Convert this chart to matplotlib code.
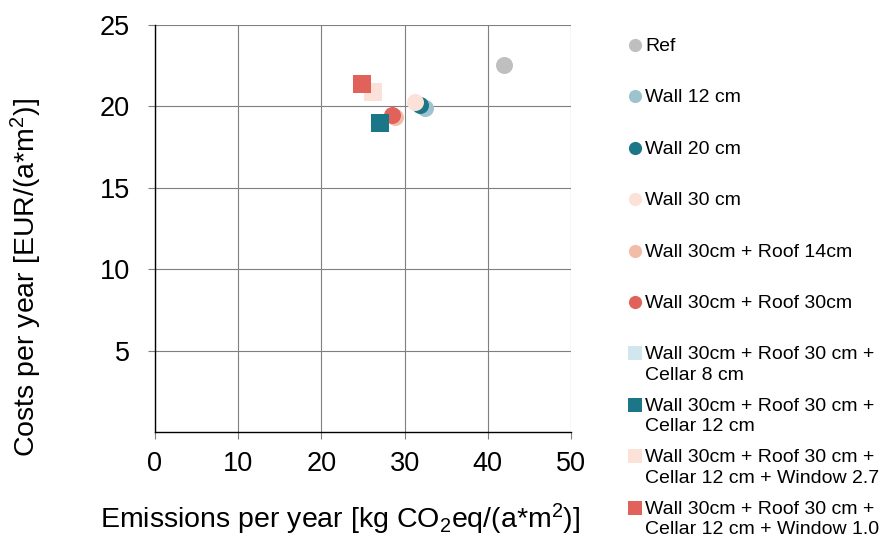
import matplotlib
matplotlib.use("Agg")
import matplotlib.pyplot as plt

plt.rcParams['font.family'] = ['Liberation Sans', 'DejaVu Sans']
plt.rcParams['mathtext.fontset'] = 'custom'
plt.rcParams['mathtext.rm'] = 'Liberation Sans'
plt.rcParams['mathtext.it'] = 'Liberation Sans'
plt.rcParams['mathtext.bf'] = 'Liberation Sans'

labels = ["Ref", "Wall 12 cm", "Wall 20 cm", "Wall 30 cm",
          "Wall 30cm + Roof 14cm", "Wall 30cm + Roof 30cm",
          "Wall 30cm + Roof 30 cm +\nCellar 8 cm",
          "Wall 30cm + Roof 30 cm +\nCellar 12 cm",
          "Wall 30cm + Roof 30 cm +\nCellar 12 cm + Window 2.7",
          "Wall 30cm + Roof 30 cm +\nCellar 12 cm + Window 1.0"]
emissions = [41.9, 32.4, 31.9, 31.2, 28.8, 28.5, 27.1, 27.1, 26.2, 24.9]
costs = [22.55, 19.9, 20.1, 20.3, 19.35, 19.5, 19.0, 19.0, 20.9, 21.4]
markers = ["o", "o", "o", "o", "o", "o", "s", "s", "s", "s"]
colors = ["#BFBFBF", "#9DC4CE", "#1B7687", "#FBE1D8", "#F1BDA8", "#E0625A",
          "#D2E7ED", "#1B7687", "#FBE1D8", "#E0625A"]

fig = plt.figure(figsize=(8.84, 5.4), dpi=100)
ax = fig.add_axes([155/884, 1-432/540, (571-155)/884, (432-25)/540])

ax.set_xlim(0, 50)
ax.set_ylim(0, 25)
ax.set_xticks([0, 10, 20, 30, 40, 50])
ax.set_yticks([5, 10, 15, 20, 25])
ax.grid(True, color="#7F7F7F", linewidth=0.8)
ax.set_axisbelow(True)
for s in ["top", "right"]:
    ax.spines[s].set_visible(False)
for s in ["left", "bottom"]:
    ax.spines[s].set_color("black")
    ax.spines[s].set_linewidth(1.0)
ax.tick_params(axis="both", direction="out", length=5, width=0.8,
               color="#7F7F7F", labelsize=19.5)
ax.tick_params(axis="y", pad=13)
ax.tick_params(axis="x", pad=9)

for x, y, m, c in zip(emissions, costs, markers, colors):
    ax.scatter([x], [y], marker=m, s=150, color=c, zorder=3, linewidths=0)

ax.set_xlabel(r"Emissions per year [kg CO$_2$eq/(a*m$^2$)]", fontsize=20.5)
ax.xaxis.set_label_coords((340-155)/416, -(502-432)/407)
ax.set_ylabel(r"Costs per year [EUR/(a*m$^2$)]", fontsize=20.5)
ax.yaxis.set_label_coords(-(155-44)/416, (432-278)/407)

# legend
lax = fig.add_axes([0, 0, 1, 1], facecolor="none")
lax.set_xlim(0, 884)
lax.set_ylim(540, 0)
lax.axis("off")
for i, (lab, m, c) in enumerate(zip(labels, markers, colors)):
    yy = 45 + i * 51.4
    lax.scatter([635], [yy], marker=m, s=90, color=c, linewidths=0)
    lax.text(645, yy - 7, lab, fontsize=14, va="top", ha="left",
             linespacing=1.27)

fig.savefig("out.png", dpi=100)
